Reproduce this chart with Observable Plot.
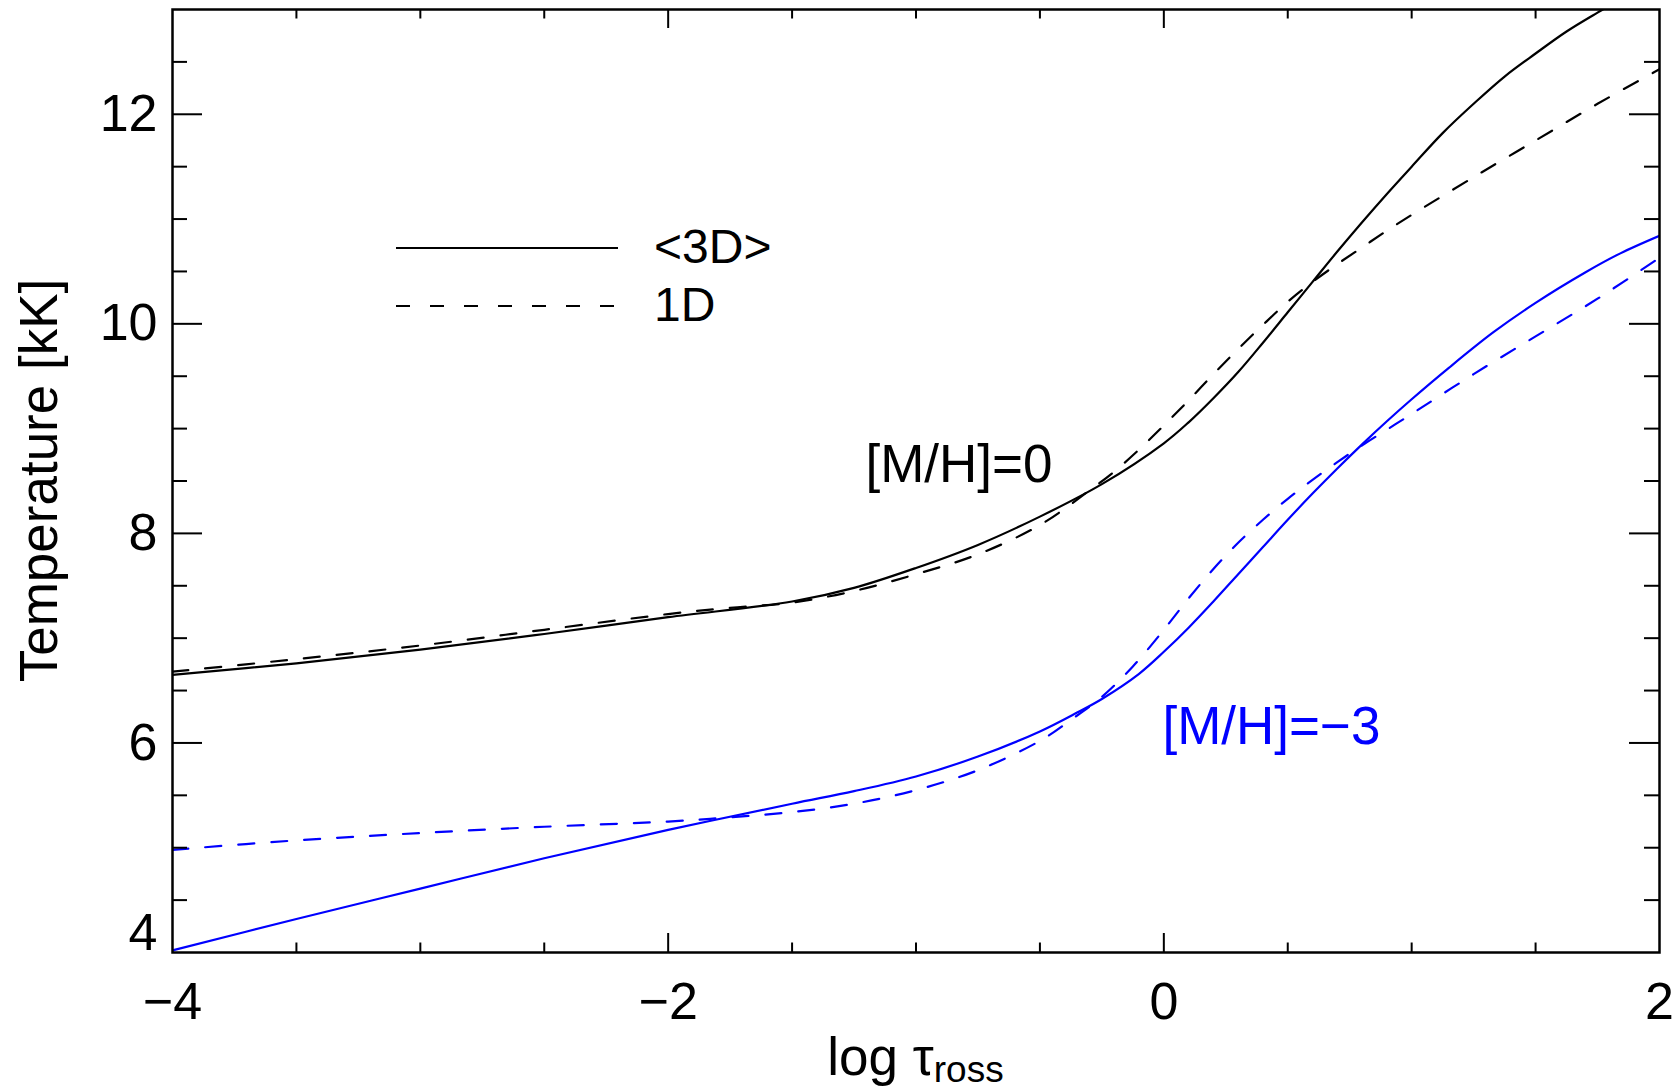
<!DOCTYPE html>
<html>
<head>
<meta charset="utf-8">
<script src="https://cdn.jsdelivr.net/npm/d3@7"></script>
<script src="https://cdn.jsdelivr.net/npm/@observablehq/plot@0.6"></script>
<style>
  html, body { margin: 0; padding: 0; background: #ffffff; }
  svg { display: block; }
</style>
</head>
<body>
<div id="chart"></div>
<script>
// ---------- data ----------
// <3D>, [M/H]=0  (black solid)
const logTau3D_0 = [-4, -3.5, -3, -2.5, -2, -1.5, -1.25, -1, -0.75, -0.5, -0.25, 0, 0.1, 0.2, 0.3, 0.4, 0.5, 0.6, 0.7, 0.8, 0.9, 1.0, 1.125, 1.25, 1.375, 1.5, 1.625, 1.75, 1.875, 2.0];
const temp3D_0   = [6.65, 6.76, 6.89, 7.04, 7.20, 7.35, 7.48, 7.67, 7.89, 8.16, 8.47, 8.86, 9.06, 9.29, 9.54, 9.82, 10.11, 10.40, 10.69, 10.97, 11.24, 11.50, 11.82, 12.10, 12.36, 12.58, 12.79, 12.97, 13.14, 13.30];
// 1D, [M/H]=0  (black dashed)
const logTau1D_0 = [-4, -3.5, -3, -2.5, -2, -1.75, -1.5, -1.25, -1.0, -0.75, -0.5, -0.3, -0.2, -0.1, 0, 0.1, 0.2, 0.3, 0.4, 0.5, 0.6, 0.7, 0.8, 0.9, 1.0, 1.25, 1.5, 1.75, 2.0];
const temp1D_0   = [6.68, 6.80, 6.93, 7.08, 7.23, 7.29, 7.34, 7.45, 7.61, 7.80, 8.08, 8.41, 8.59, 8.80, 9.03, 9.27, 9.52, 9.76, 9.99, 10.21, 10.40, 10.57, 10.73, 10.89, 11.04, 11.40, 11.75, 12.10, 12.43];
// <3D>, [M/H]=-3  (blue solid)
const logTau3D_m3 = [-4, -3.5, -3, -2.5, -2, -1.5, -1.25, -1.0, -0.75, -0.5, -0.35, -0.25, -0.1, 0, 0.1, 0.2, 0.3, 0.4, 0.5, 0.6, 0.7, 0.8, 0.9, 1.0, 1.15, 1.33, 1.5, 1.7, 1.84, 2.0];
const temp3D_m3   = [4.02, 4.32, 4.61, 4.90, 5.17, 5.42, 5.54, 5.68, 5.87, 6.11, 6.29, 6.42, 6.66, 6.87, 7.10, 7.35, 7.61, 7.87, 8.13, 8.38, 8.62, 8.85, 9.07, 9.28, 9.58, 9.92, 10.20, 10.49, 10.67, 10.84];
// 1D, [M/H]=-3  (blue dashed)
const logTau1D_m3 = [-4, -3.5, -3, -2.5, -2, -1.75, -1.5, -1.25, -1.0, -0.75, -0.5, -0.375, -0.25, -0.125, 0, 0.1, 0.2, 0.3, 0.4, 0.5, 0.6, 0.7, 0.8, 0.9, 1.0, 1.25, 1.5, 1.75, 2.0];
const temp1D_m3   = [4.98, 5.07, 5.14, 5.20, 5.25, 5.29, 5.34, 5.42, 5.55, 5.74, 6.02, 6.22, 6.44, 6.73, 7.08, 7.38, 7.66, 7.91, 8.13, 8.33, 8.51, 8.68, 8.84, 8.99, 9.14, 9.52, 9.88, 10.24, 10.63];

// axes
const xDomain = [-4, 2];
const yDomain = [4, 13];
const xLabelTicks = [-4, -2, 0, 2];
const xMajorTicks = [-2, 0];
const xMinorTicks = [-3.5, -3, -2.5, -1.5, -1, -0.5, 0.5, 1, 1.5];
const yLabelTicks = [6, 8, 10, 12];
const yBottomLabel = [4];
const yMajorTicks = [6, 8, 10, 12];
const yMinorTicks = [4.5, 5, 5.5, 6.5, 7, 7.5, 8.5, 9, 9.5, 10.5, 11, 11.5, 12.5];

// text
const xTitleMain = "log τ";
const xTitleSub = "ross";
const yTitle = "Temperature [kK]";
const labelSolar = "[M/H]=0";
const labelPoor = "[M/H]=−3";
const legendLabels = ["<3D>", "1D"];

// ---------- layout / style ----------
const W = 1680, H = 1091;
const mL = 172, mR = 21, mT = 9, mB = 139;
const iW = W - mL - mR, iH = H - mT - mB;
const FONT = '"Liberation Sans", Arial, Helvetica, sans-serif';
const BLUE = "#0000ff";
const DASH = "16,17";
const LEGEND_DASH = "14,20";
const LW = 2.2;

const pts = (xs, ys) => xs.map((x, i) => ({x, y: ys[i]}));
const fmt = d => (d < 0 ? "\u2212" + Math.abs(d) : String(d));

const lineOpts = (stroke, dash) => ({
  x: "x", y: "y", stroke, strokeWidth: LW, strokeDasharray: dash,
  curve: "catmull-rom", clip: true
});

const tickStyle = {stroke: "#000", strokeWidth: 2};

const chart = Plot.plot({
  width: W, height: H,
  marginLeft: mL, marginRight: mR, marginTop: mT, marginBottom: mB,
  style: {fontFamily: FONT, fontSize: "52px", background: "#ffffff", color: "#000000"},
  x: {domain: xDomain},
  y: {domain: yDomain},
  marks: [
    Plot.line(pts(logTau1D_m3, temp1D_m3), lineOpts(BLUE, DASH)),
    Plot.line(pts(logTau3D_m3, temp3D_m3), lineOpts(BLUE, null)),
    Plot.line(pts(logTau1D_0, temp1D_0), lineOpts("#000", DASH)),
    Plot.line(pts(logTau3D_0, temp3D_0), lineOpts("#000", null)),

    // inward ticks on all four sides
    Plot.tickX(xMinorTicks, {x: d => d, insetTop: iH - 9.5, ...tickStyle}),
    Plot.tickX(xMinorTicks, {x: d => d, insetBottom: iH - 9.5, ...tickStyle}),
    Plot.tickX(xMajorTicks, {x: d => d, insetTop: iH - 19, ...tickStyle}),
    Plot.tickX(xMajorTicks, {x: d => d, insetBottom: iH - 19, ...tickStyle}),
    Plot.tickY(yMinorTicks, {y: d => d, insetRight: iW - 15, ...tickStyle}),
    Plot.tickY(yMinorTicks, {y: d => d, insetLeft: iW - 15, ...tickStyle}),
    Plot.tickY(yMajorTicks, {y: d => d, insetRight: iW - 30, ...tickStyle}),
    Plot.tickY(yMajorTicks, {y: d => d, insetLeft: iW - 30, ...tickStyle}),

    Plot.frame({stroke: "#000", strokeWidth: 2.5}),

    Plot.axisX({ticks: xLabelTicks, tickSize: 0, tickPadding: 30, tickFormat: fmt, label: null, fontSize: 52}),
    Plot.axisY({ticks: yLabelTicks, tickSize: 0, tickPadding: 15, tickFormat: fmt, label: null, fontSize: 52}),
    Plot.axisY({ticks: yBottomLabel, tickSize: 0, tickPadding: 15, tickFormat: fmt, label: null, fontSize: 52, dy: -19}),

    Plot.text([labelSolar], {text: d => d, frameAnchor: "top-left", dx: 693, dy: 472,
      textAnchor: "start", lineAnchor: "bottom", fontSize: 53, fill: "#000"}),
    Plot.text([labelPoor], {text: d => d, frameAnchor: "top-left", dx: 990, dy: 734,
      textAnchor: "start", lineAnchor: "bottom", fontSize: 53, fill: BLUE})
  ]
});

document.getElementById("chart").appendChild(chart);

// ---------- titles & legend ----------
const svg = d3.select(chart);

const xt = svg.append("text")
  .attr("x", mL + iW / 2).attr("y", H - 16)
  .attr("text-anchor", "middle")
  .attr("font-family", FONT).attr("font-size", 53).attr("fill", "#000");
xt.append("tspan").text(xTitleMain);
xt.append("tspan").attr("font-size", 37).attr("dy", 7).text(xTitleSub);

svg.append("text")
  .attr("transform", `translate(57,${mT + iH / 2}) rotate(-90)`)
  .attr("text-anchor", "middle")
  .attr("font-family", FONT).attr("font-size", 53).attr("fill", "#000")
  .text(yTitle);

const legendDashes = [null, LEGEND_DASH];
const lg = svg.append("g");
legendLabels.forEach((lab, i) => {
  const yy = mT + 239 + i * 58;
  lg.append("line")
    .attr("x1", mL + 224).attr("x2", mL + 446)
    .attr("y1", yy).attr("y2", yy)
    .attr("stroke", "#000").attr("stroke-width", LW)
    .attr("stroke-dasharray", legendDashes[i]);
  lg.append("text")
    .attr("x", mL + 482).attr("y", yy + 15)
    .attr("text-anchor", "start")
    .attr("font-family", FONT).attr("font-size", 48).attr("fill", "#000")
    .text(lab);
});
</script>
</body>
</html>
